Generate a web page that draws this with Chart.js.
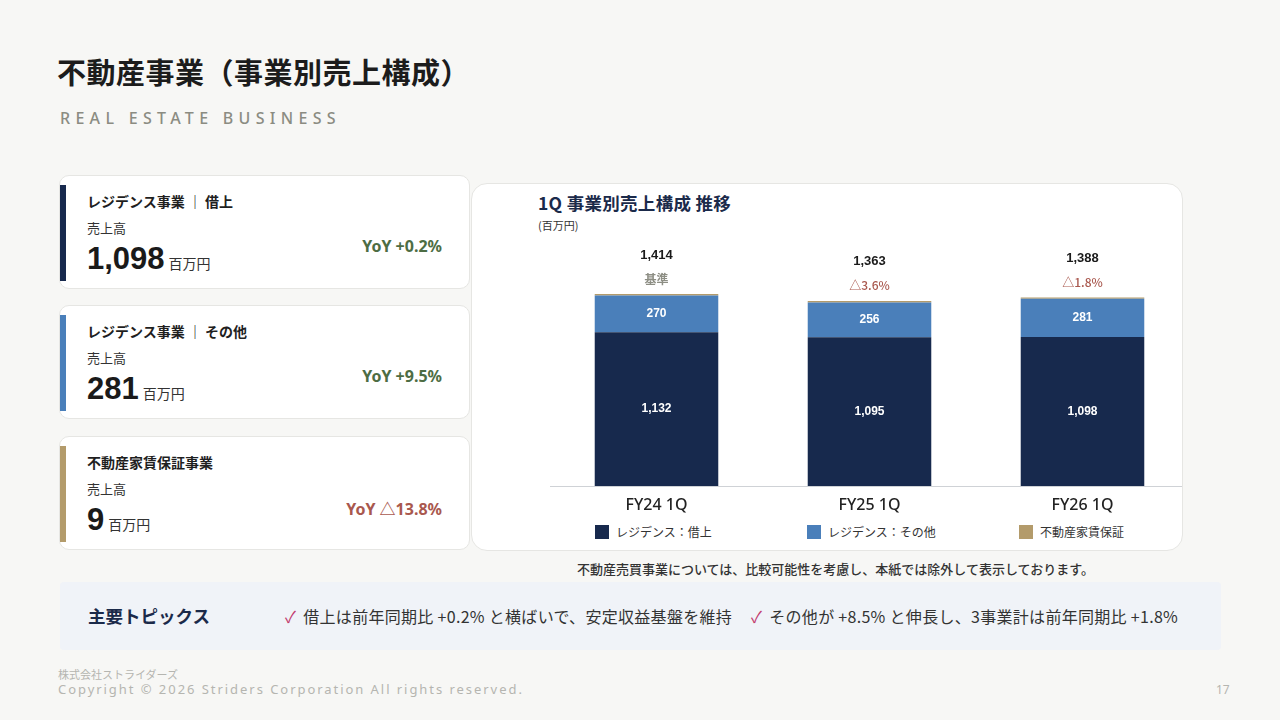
<!DOCTYPE html>
<html lang="ja">
<head>
<meta charset="utf-8">
<script src="https://cdn.jsdelivr.net/npm/chart.js@4/dist/chart.umd.min.js"></script>
<style>
  html,body{margin:0;padding:0;}
  body{width:1280px;height:720px;background:#f7f7f5;position:relative;overflow:hidden;
       font-family:"Noto Sans CJK JP","Noto Sans",sans-serif;color:#222;}
  .abs{position:absolute;}
  #title{left:57px;top:50px;font-size:29px;font-weight:700;color:#1c1c1c;letter-spacing:0.5px;white-space:nowrap;}
  #sub{left:60px;top:107px;font-size:16px;font-weight:500;color:#8b8c82;letter-spacing:5.3px;font-family:"Noto Sans","Noto Sans CJK JP",sans-serif;white-space:nowrap;}
  .card{position:absolute;left:59px;width:411px;height:114px;background:#fff;border:1px solid #e6e6e3;border-radius:10px;box-sizing:border-box;}
  .card .bar{position:absolute;left:0;top:9px;width:6px;height:96px;}
  .card .h{position:absolute;left:27px;top:15px;font-size:14px;font-weight:700;color:#1f1f1f;white-space:nowrap;}
  .card .l{position:absolute;left:27px;top:42px;font-size:13px;color:#333;}
  .card .v{position:absolute;left:27px;top:65px;white-space:nowrap;line-height:36px;}
  .card .v b{font-family:"Liberation Sans",Arial,sans-serif;font-size:31px;font-weight:700;color:#1a1a1a;}
  .card .v span{font-size:14px;color:#333;margin-left:4px;}
  .card .y{position:absolute;right:27px;top:59px;font-size:16px;font-weight:700;font-family:"Noto Sans","Noto Sans CJK JP",sans-serif;white-space:nowrap;}
  #chartCard{left:471px;top:183px;width:712px;height:368px;background:#fff;border:1px solid #e6e6e3;border-radius:16px;box-sizing:border-box;}
  #ctitle{left:538px;top:190px;font-size:17.5px;font-weight:700;color:#1b2a4a;white-space:nowrap;letter-spacing:0.3px;}
  #cunit{left:538px;top:217px;font-size:11px;color:#333;}
  #cwrap{left:546px;top:236px;width:636px;height:280px;overflow:hidden;}
  #c{position:absolute;left:4px;top:0;}
  .lg{position:absolute;top:523px;font-size:12px;color:#333;white-space:nowrap;display:flex;align-items:center;}
  .lg i{display:inline-block;width:14px;height:14px;margin-right:7px;}
  #note{left:577px;top:559px;font-size:13px;font-weight:500;color:#333;white-space:nowrap;}
  #topics{left:60px;top:582px;width:1161px;height:68px;background:#f0f3f8;border-radius:4px;}
  #topics .t{position:absolute;left:28px;top:21px;font-size:17.5px;font-weight:700;color:#1b2a4a;}
  #topics .c{position:absolute;top:22px;font-size:16px;color:#333;white-space:nowrap;letter-spacing:0.3px;}
  #topics .c em{font-style:normal;color:#c23a6e;margin-right:7px;}
  #f1{left:58px;top:668px;font-size:11px;line-height:13px;color:#b5b5b0;}
  #f2{left:58px;top:682px;font-size:13px;line-height:15px;color:#b5b5b0;letter-spacing:1.95px;font-family:"Noto Sans",sans-serif;white-space:nowrap;}
  #pg{left:1216px;top:682px;font-size:12px;line-height:15px;color:#b5b5b0;font-family:"Noto Sans",sans-serif;}
</style>
</head>
<body>
<div id="title" class="abs">不動産事業（事業別売上構成）</div>
<div id="sub" class="abs">REAL ESTATE BUSINESS</div>

<div class="card" style="top:175px;">
  <div class="bar" style="background:#17294d;"></div>
  <div class="h">レジデンス事業 ｜ 借上</div>
  <div class="l">売上高</div>
  <div class="v"><b>1,098</b><span>百万円</span></div>
  <div class="y" style="color:#4d6d44;">YoY +0.2%</div>
</div>
<div class="card" style="top:305px;">
  <div class="bar" style="background:#4a7fba;"></div>
  <div class="h">レジデンス事業 ｜ その他</div>
  <div class="l">売上高</div>
  <div class="v"><b>281</b><span>百万円</span></div>
  <div class="y" style="color:#4d6d44;">YoY +9.5%</div>
</div>
<div class="card" style="top:436px;">
  <div class="bar" style="background:#b39b6b;"></div>
  <div class="h">不動産家賃保証事業</div>
  <div class="l">売上高</div>
  <div class="v"><b>9</b><span>百万円</span></div>
  <div class="y" style="color:#a9584e;">YoY △13.8%</div>
</div>

<div id="chartCard" class="abs"></div>
<div id="ctitle" class="abs">1Q 事業別売上構成 推移</div>
<div id="cunit" class="abs">(百万円)</div>
<div id="cwrap" class="abs"><canvas id="c" width="639" height="280" style="width:639px;height:280px;"></canvas></div>
<div class="lg" style="left:595px;"><i style="background:#17294d;"></i>レジデンス：借上</div>
<div class="lg" style="left:807px;"><i style="background:#4a7fba;"></i>レジデンス：その他</div>
<div class="lg" style="left:1019px;"><i style="background:#b39b6b;"></i>不動産家賃保証</div>

<div id="note" class="abs">不動産売買事業については、比較可能性を考慮し、本紙では除外して表示しております。</div>

<div id="topics" class="abs">
  <div class="t">主要トピックス</div>
  <div class="c" style="left:225px;"><em>✓</em>借上は前年同期比 +0.2% と横ばいで、安定収益基盤を維持</div>
  <div class="c" style="left:691px;"><em>✓</em>その他が +8.5% と伸長し、3事業計は前年同期比 +1.8%</div>
</div>

<div id="f1" class="abs">株式会社ストライダーズ</div>
<div id="f2" class="abs">Copyright © 2026 Striders Corporation All rights reserved.</div>
<div id="pg" class="abs">17</div>

<script>
const categories = ['FY24 1Q', 'FY25 1Q', 'FY26 1Q'];
const residenceLease = [1132, 1095, 1098];
const residenceOther = [270, 256, 281];
const rentGuarantee = [12, 12, 9];
const totals = [1414, 1363, 1388];
const changeLabels = ['基準', '△3.6%', '△1.8%'];
const seriesNames = ['レジデンス：借上', 'レジデンス：その他', '不動産家賃保証'];

const labelPlugin = {
  id: 'labels',
  afterDatasetsDraw(chart) {
    const ctx = chart.ctx;
    ctx.save();
    ctx.textAlign = 'center';
    ctx.textBaseline = 'middle';
    [0, 1].forEach(di => {
      const meta = chart.getDatasetMeta(di);
      meta.data.forEach((bar, i) => {
        const v = chart.data.datasets[di].data[i];
        ctx.fillStyle = '#ffffff';
        ctx.font = 'bold 12px "Liberation Sans", Arial, sans-serif';
        ctx.fillText(v.toLocaleString('en-US'), bar.x, (bar.y + bar.base) / 2);
      });
    });
    const top = chart.getDatasetMeta(2);
    top.data.forEach((bar, i) => {
      ctx.fillStyle = '#1a1a1a';
      ctx.font = 'bold 13px "Liberation Sans", Arial, sans-serif';
      ctx.fillText(totals[i].toLocaleString('en-US'), bar.x, bar.y - 39);
      ctx.font = (i === 0 ? 'bold ' : '500 ') + '12px "Noto Sans CJK JP", sans-serif';
      ctx.fillStyle = i === 0 ? '#8d8e84' : '#a9584e';
      ctx.fillText(changeLabels[i], bar.x, bar.y - 15);
    });
    ctx.restore();
  }
};

new Chart(document.getElementById('c'), {
  type: 'bar',
  data: {
    labels: categories,
    datasets: [
      { label: seriesNames[0], data: residenceLease, backgroundColor: '#17294d' },
      { label: seriesNames[1], data: residenceOther, backgroundColor: '#4a7fba' },
      { label: seriesNames[2], data: rentGuarantee, backgroundColor: '#b39b6b' }
    ]
  },
  options: {
    responsive: false,
    maintainAspectRatio: false,
    animation: false,
    devicePixelRatio: 1,
    layout: { padding: 0 },
    datasets: { bar: { barPercentage: 0.58, categoryPercentage: 1.0 } },
    plugins: { legend: { display: false }, tooltip: { enabled: false } },
    scales: {
      x: {
        stacked: true,
        grid: { display: false, drawTicks: false },
        border: { display: true, color: '#cfd2d6', width: 1 },
        ticks: { color: '#222', padding: 10, font: { family: '"Noto Sans", "Noto Sans CJK JP", sans-serif', size: 16, weight: '500' } },
        afterFit(scale) { scale.height = 30; }
      },
      y: {
        stacked: true,
        display: false,
        min: 0,
        max: 1841
      }
    }
  },
  plugins: [labelPlugin]
});
</script>
</body>
</html>
